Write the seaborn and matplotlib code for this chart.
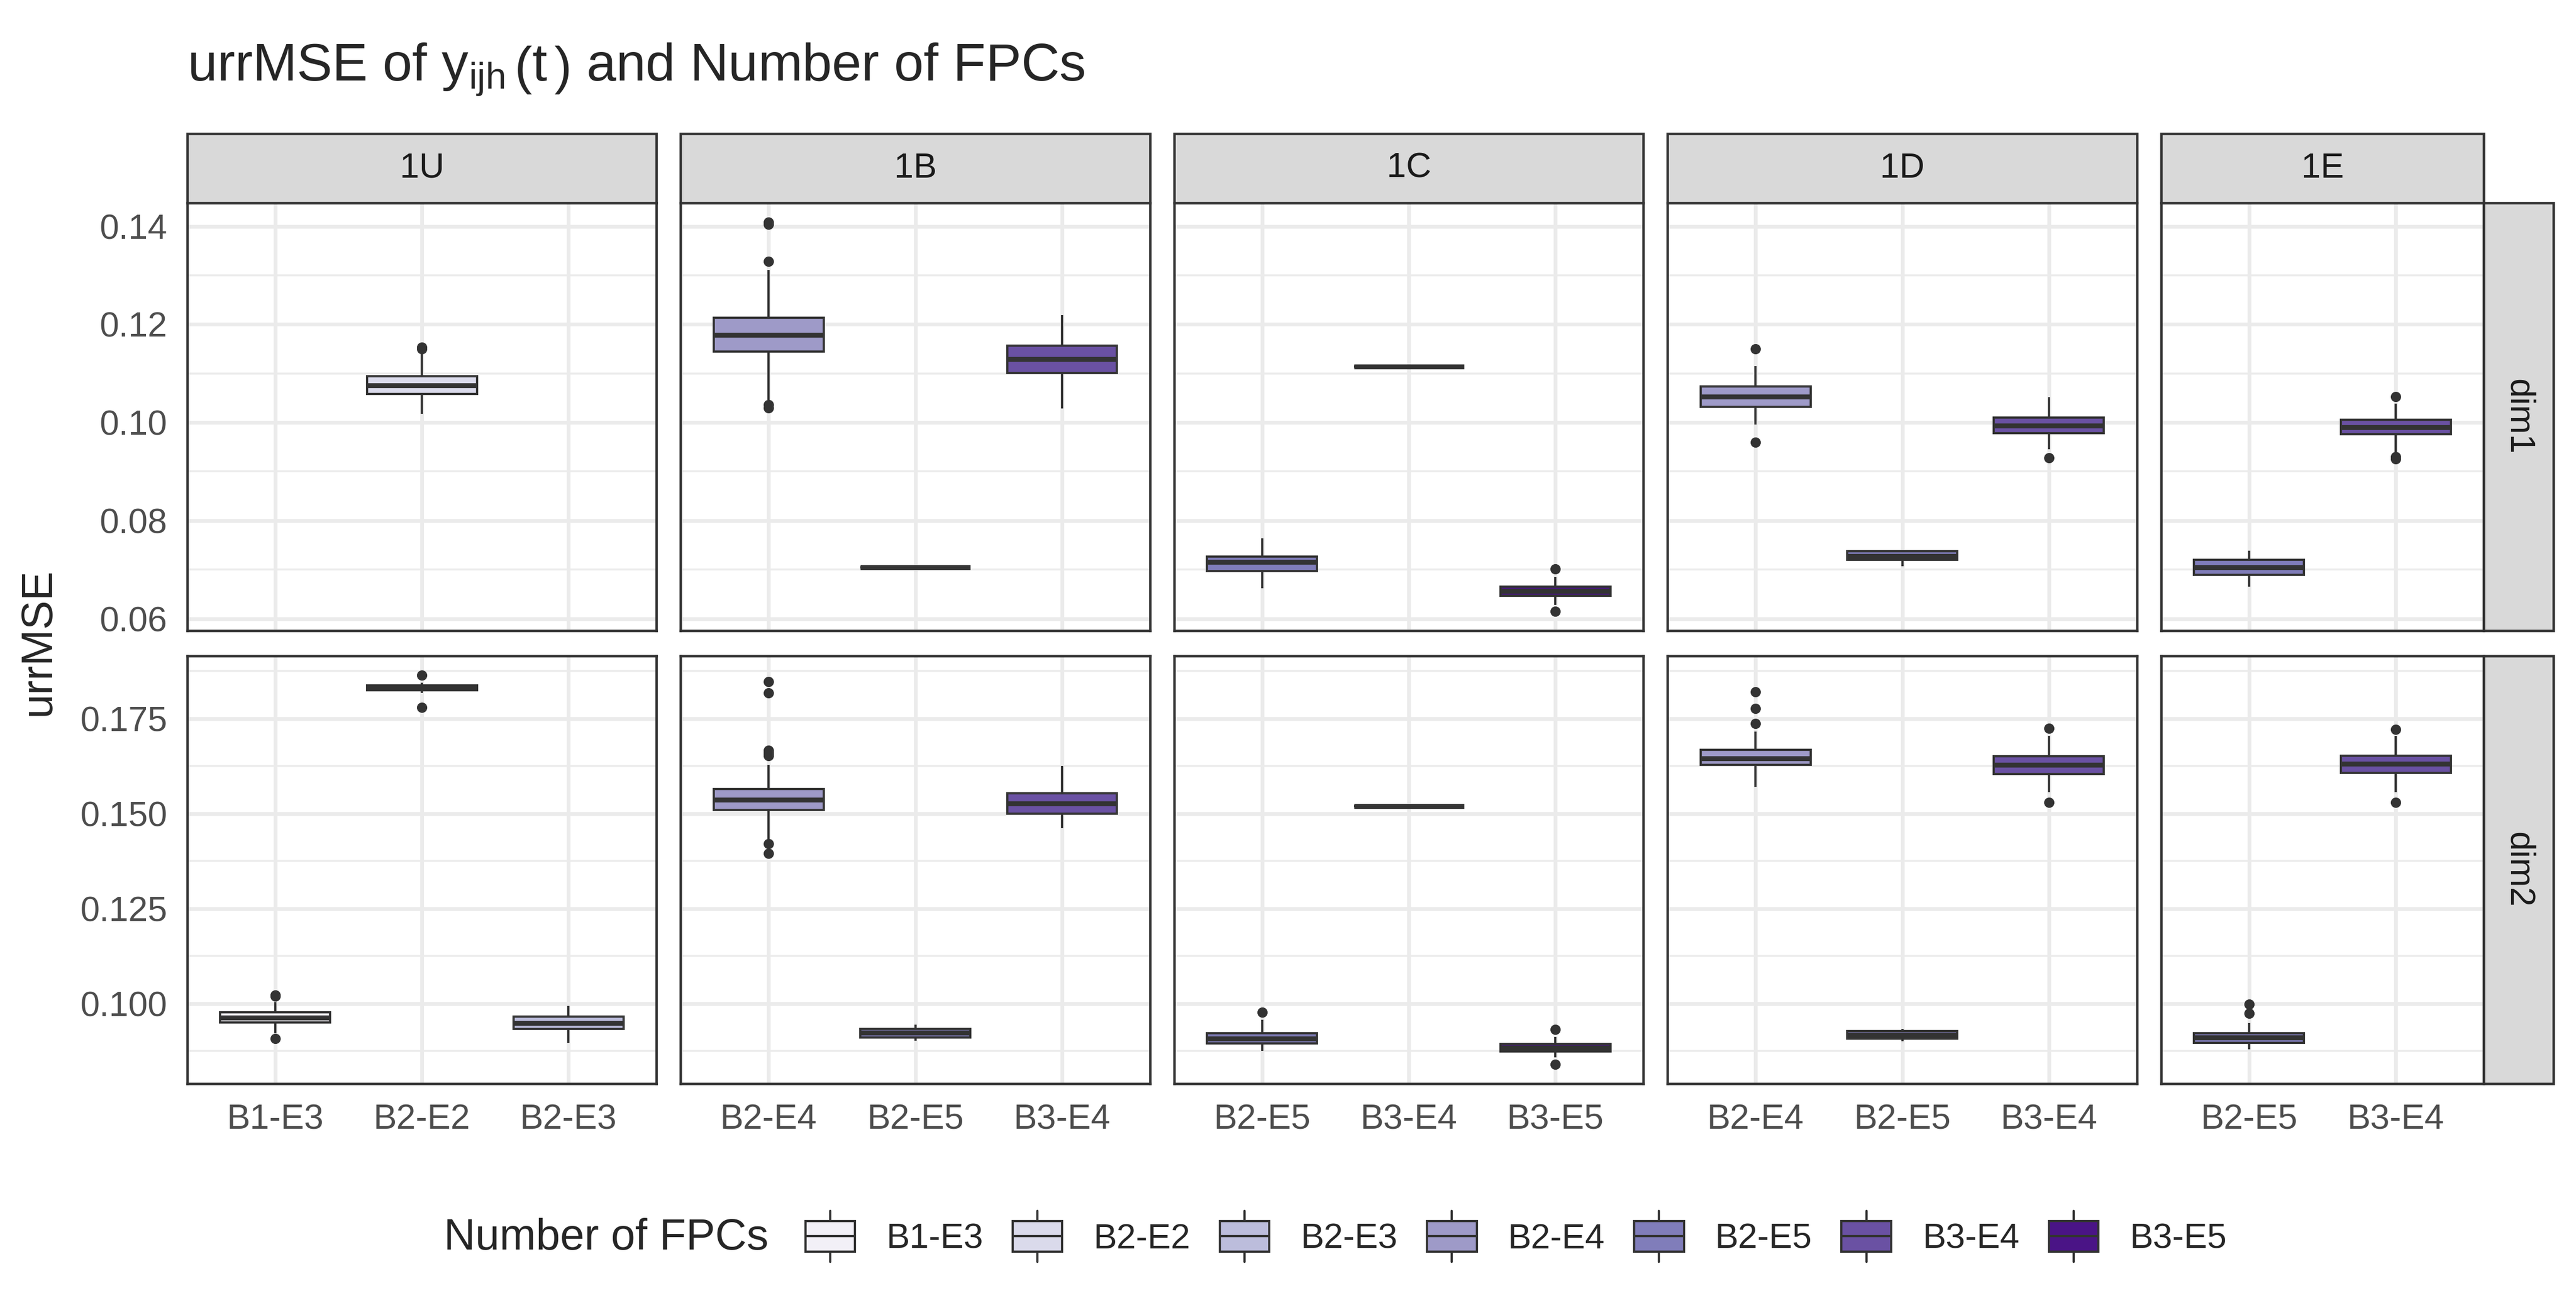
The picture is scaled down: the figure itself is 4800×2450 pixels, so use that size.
import numpy as np
import pandas as pd
import seaborn as sns
import matplotlib.pyplot as plt
from matplotlib.patches import Patch, Rectangle
from matplotlib.lines import Line2D
from matplotlib.legend_handler import HandlerBase
from matplotlib.ticker import MultipleLocator, FormatStrFormatter

# facets and levels
panels = ['1U', '1B', '1C', '1D', '1E']
dims = ['dim1', 'dim2']
fpc_levels = ['B1-E3', 'B2-E2', 'B2-E3', 'B2-E4', 'B2-E5', 'B3-E4', 'B3-E5']
fpc_colors = ['#F2F0F7', '#DADAEB', '#BCBDDC', '#9E9AC8', '#807DBA', '#6A51A3', '#4A1486']
panel_fpcs = {
    '1U': ['B1-E3', 'B2-E2', 'B2-E3'],
    '1B': ['B2-E4', 'B2-E5', 'B3-E4'],
    '1C': ['B2-E5', 'B3-E4', 'B3-E5'],
    '1D': ['B2-E4', 'B2-E5', 'B3-E4'],
    '1E': ['B2-E5', 'B3-E4'],
}

# box summaries (lower whisker, q1, median, q3, upper whisker, outliers)
box_panel = ['1U', '1B', '1B', '1B', '1C', '1C', '1C', '1D', '1D', '1D', '1E', '1E',
             '1U', '1U', '1U', '1B', '1B', '1B', '1C', '1C', '1C', '1D', '1D', '1D', '1E', '1E']
box_dim = ['dim1'] * 12 + ['dim2'] * 14
box_fpc = ['B2-E2', 'B2-E4', 'B2-E5', 'B3-E4', 'B2-E5', 'B3-E4', 'B3-E5', 'B2-E4', 'B2-E5', 'B3-E4', 'B2-E5', 'B3-E4',
           'B1-E3', 'B2-E2', 'B2-E3', 'B2-E4', 'B2-E5', 'B3-E4', 'B2-E5', 'B3-E4', 'B3-E5', 'B2-E4', 'B2-E5', 'B3-E4', 'B2-E5', 'B3-E4']
box_low = [0.1018, 0.1046, 0.0705, 0.1028, 0.0662, 0.1114, 0.0628, 0.0996, 0.0707, 0.0945, 0.0665, 0.0938,
           0.0922, 0.1818, 0.0896, 0.1430, 0.0902, 0.1461, 0.0875, 0.1519, 0.0858, 0.1570, 0.0901, 0.1556, 0.0879, 0.1556]
box_q1 = [0.1058, 0.1144, 0.0705, 0.1101, 0.0697, 0.1114, 0.0647, 0.1032, 0.0720, 0.0978, 0.0689, 0.0976,
          0.0950, 0.1825, 0.0933, 0.1509, 0.0911, 0.1500, 0.0895, 0.1519, 0.0873, 0.1628, 0.0908, 0.1605, 0.0896, 0.1607]
box_med = [0.1076, 0.1178, 0.0705, 0.1129, 0.0715, 0.1114, 0.0656, 0.1053, 0.0728, 0.0993, 0.0705, 0.0990,
           0.0963, 0.1832, 0.0949, 0.1537, 0.0923, 0.1527, 0.0908, 0.1519, 0.0883, 0.1645, 0.0918, 0.1629, 0.0910, 0.1631]
box_q3 = [0.1094, 0.1213, 0.0705, 0.1157, 0.0727, 0.1114, 0.0665, 0.1073, 0.0737, 0.1010, 0.0720, 0.1005,
          0.0977, 0.1838, 0.0965, 0.1565, 0.0933, 0.1554, 0.0922, 0.1519, 0.0893, 0.1668, 0.0928, 0.1651, 0.0922, 0.1652]
box_high = [0.1144, 0.1311, 0.0705, 0.1219, 0.0764, 0.1114, 0.0685, 0.1115, 0.0740, 0.1052, 0.0739, 0.1038,
            0.1004, 0.1845, 0.0994, 0.1629, 0.0945, 0.1625, 0.0957, 0.1519, 0.0912, 0.1716, 0.0933, 0.1704, 0.0949, 0.1704]
box_out = [
    [0.1150, 0.1153],
    [0.1030, 0.1036, 0.1328, 0.1404, 0.1408],
    [],
    [],
    [],
    [],
    [0.0615, 0.0701],
    [0.0960, 0.1150],
    [],
    [0.0928],
    [],
    [0.0926, 0.0930, 0.1053],
    [0.0907, 0.1019, 0.1022],
    [0.1780, 0.1864],
    [],
    [0.1395, 0.1420, 0.1652, 0.1656, 0.1661, 0.1666, 0.1818, 0.1848],
    [],
    [],
    [0.0977],
    [],
    [0.0840, 0.0932],
    [0.1737, 0.1777, 0.1820],
    [],
    [0.1530, 0.1724],
    [0.0974, 0.0998],
    [0.1530, 0.1722],
]

# observations that reproduce each box summary
rows = []
for i in range(len(box_panel)):
    vals = ([box_low[i]] + [box_q1[i]] * 20 + [box_med[i]] * 20 + [box_q3[i]] * 20
            + [box_high[i]] + box_out[i])
    for v in vals:
        rows.append((box_panel[i], box_dim[i], box_fpc[i], v))
df = pd.DataFrame(rows, columns=['panel', 'dim', 'fpc', 'urrMSE'])

pal = dict(zip(fpc_levels, fpc_colors))

sns.set_theme(style='white')
plt.rcParams['font.family'] = ['Liberation Sans', 'DejaVu Sans']
plt.rcParams['mathtext.fontset'] = 'custom'
plt.rcParams['mathtext.rm'] = 'Liberation Sans'
plt.rcParams['mathtext.it'] = 'Liberation Sans'

fig, axes = plt.subplots(
    2, 5, figsize=(16, 2450 / 300), sharey='row',
    gridspec_kw=dict(width_ratios=[3.2, 3.2, 3.2, 3.2, 2.2], left=0.0727, right=0.9642,
                     top=0.8457, bottom=0.1759, wspace=0.0549, hspace=0.0589))

dark = '#333333'
for r, d in enumerate(dims):
    for c, p in enumerate(panels):
        ax = axes[r, c]
        cats = panel_fpcs[p]
        sub = df[(df['panel'] == p) & (df['dim'] == d)]
        sns.boxplot(data=sub, x='fpc', y='urrMSE', hue='fpc', order=cats, hue_order=cats,
                    palette=pal, saturation=1, width=0.75, dodge=False, linewidth=1.0,
                    linecolor=dark, showcaps=False, fliersize=3.6,
                    flierprops=dict(marker='o', markerfacecolor=dark, markeredgecolor=dark),
                    medianprops=dict(linewidth=2.2, color=dark),
                    legend=False, ax=ax)
        ax.set_xlim(-0.6, len(cats) - 0.4)
        ax.set_xlabel('')
        ax.set_ylabel('')
        for s in ax.spines.values():
            s.set_visible(True)
            s.set_color(dark)
            s.set_linewidth(1.1)
        ax.set_axisbelow(True)
        ax.grid(True, which='major', color='#EBEBEB', linewidth=1.7)
        ax.grid(True, which='minor', axis='y', color='#EBEBEB', linewidth=0.85)
        ax.tick_params(axis='both', which='major', colors=dark, labelcolor='#4D4D4D',
                       labelsize=15.6, length=4.9, width=1.1, pad=4)
        ax.tick_params(axis='y', which='minor', left=False)
        if r == 0:
            ax.tick_params(axis='x', bottom=False, labelbottom=False)
        if c > 0:
            ax.tick_params(axis='y', left=False, labelleft=False)

axes[0, 0].yaxis.set_major_locator(MultipleLocator(0.02))
axes[0, 0].yaxis.set_minor_locator(MultipleLocator(0.01))
axes[0, 0].yaxis.set_major_formatter(FormatStrFormatter('%.2f'))
axes[1, 0].yaxis.set_major_locator(MultipleLocator(0.025))
axes[1, 0].yaxis.set_minor_locator(MultipleLocator(0.0125))
axes[1, 0].yaxis.set_major_formatter(FormatStrFormatter('%.3f'))

# facet strips
strip_h = 129 / 2450
strip_w = 130 / 4800
for c, p in enumerate(panels):
    pos = axes[0, c].get_position()
    fig.add_artist(Rectangle((pos.x0, pos.y1), pos.width, strip_h, transform=fig.transFigure,
                             facecolor='#D9D9D9', edgecolor=dark, linewidth=1.1))
    fig.text(pos.x0 + pos.width / 2, pos.y1 + strip_h / 2, p, ha='center', va='center',
             size=15.6, color='#1A1A1A')
for r, d in enumerate(dims):
    pos = axes[r, 4].get_position()
    fig.add_artist(Rectangle((pos.x1, pos.y0), strip_w, pos.height, transform=fig.transFigure,
                             facecolor='#D9D9D9', edgecolor=dark, linewidth=1.1))
    fig.text(pos.x1 + strip_w / 2, pos.y0 + pos.height / 2, d, ha='center', va='center',
             rotation=-90, size=15.6, color='#1A1A1A')

fig.text(0.0727, 0.9388,
         r'urrMSE of $\mathrm{y_{ijh}}\,\left(\mathrm{t}^{\,}_{\,}\right)$ and Number of FPCs',
         ha='left', va='baseline', size=23.8)
fig.text(0.015, 0.512, 'urrMSE', rotation=90, ha='center', va='center', size=19.5)


class BoxKey(HandlerBase):
    def create_artists(self, legend, orig_handle, xdescent, ydescent, width, height, fontsize, trans):
        x0, y0 = -xdescent, -ydescent
        cx = x0 + width / 2
        ext = height * 0.33
        box = Rectangle((x0, y0), width, height, facecolor=orig_handle.get_facecolor(),
                        edgecolor=dark, linewidth=1.0, transform=trans)
        med = Line2D([x0, x0 + width], [y0 + height / 2] * 2, color=dark, lw=1.0, transform=trans)
        up = Line2D([cx, cx], [y0 + height, y0 + height + ext], color=dark, lw=1.0, transform=trans)
        dn = Line2D([cx, cx], [y0 - ext, y0], color=dark, lw=1.0, transform=trans)
        return [up, dn, box, med]


handles = [Patch(facecolor=col, edgecolor=dark) for col in fpc_colors]
fig.text(0.1723, 0.0584, 'Number of FPCs', ha='left', va='center', size=19.5)
fig.legend(handles, fpc_levels, loc='center left', bbox_to_anchor=(0.3127, 0.0584), ncol=7,
           frameon=False, fontsize=15.6, handlelength=1.42, handleheight=0.97,
           handletextpad=0.9, columnspacing=0.84, borderpad=0, borderaxespad=0,
           handler_map={Patch: BoxKey()})

fig.savefig('out.png', dpi=300)
